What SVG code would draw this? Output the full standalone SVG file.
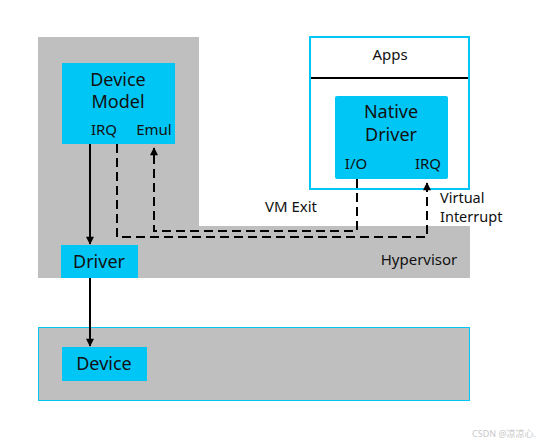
<svg xmlns="http://www.w3.org/2000/svg" width="543" height="446" viewBox="0 0 543 446">
<defs>
<style>
.gray{fill:#bfbfbf}
.box{fill:#00c6f6}
.t{font-family:"Noto Sans","Open Sans",sans-serif;fill:#111;text-anchor:middle}
.big{font-size:18px}
.sm{font-size:15px}
.solid{stroke:#000;stroke-width:2;fill:none}
.dash{stroke:#000;stroke-width:2;fill:none;stroke-dasharray:9 5}
</style>
<marker id="ah2" viewBox="0 0 10 10" refX="9" refY="5" markerWidth="12" markerHeight="8" markerUnits="userSpaceOnUse" orient="auto">
<path d="M0,0 L10,5 L0,10 Z" fill="#000"/>
</marker>
</defs>
<rect width="543" height="446" fill="#fff"/>
<g id="hypervisor">
<path class="gray" d="M38,37 H199 V226 H470 V278 H38 Z"/>
<text class="t sm" x="419" y="265">Hypervisor</text>
</g>
<g id="hardware">
<rect x="38.5" y="327.5" width="431" height="73" fill="#bfbfbf" stroke="#00c6f6" stroke-width="1"/>
</g>
<g id="apps">
<rect x="310" y="37" width="159" height="152" fill="#fff" stroke="#00c6f6" stroke-width="2"/>
<line x1="311" y1="78" x2="468" y2="78" stroke="#000" stroke-width="2"/>
<text class="t sm" x="390" y="60">Apps</text>
</g>
<g id="device-model">
<rect class="box" x="62" y="63" width="113" height="81"/>
<text class="t big" x="118" y="86">Device</text>
<text class="t big" x="118" y="108">Model</text>
<text class="t sm" x="104" y="135">IRQ</text>
<text class="t sm" x="154" y="135">Emul</text>
</g>
<g id="native-driver">
<rect class="box" x="335" y="96" width="113" height="83" rx="2"/>
<text class="t big" x="391" y="118">Native</text>
<text class="t big" x="391" y="141">Driver</text>
<text class="t sm" x="356" y="169">I/O</text>
<text class="t sm" x="428" y="169">IRQ</text>
</g>
<g id="driver">
<rect class="box" x="61" y="245" width="77" height="33"/>
<text class="t big" x="99" y="268">Driver</text>
</g>
<g id="device">
<rect class="box" x="62" y="347" width="85" height="34"/>
<text class="t big" x="104" y="370">Device</text>
</g>
<g id="connectors">
<line class="solid" x1="90" y1="144" x2="90" y2="244" marker-end="url(#ah2)"/>
<line class="solid" x1="90" y1="278" x2="90" y2="346" marker-end="url(#ah2)"/>
<path class="dash" d="M117,144 V237 H427 V190"/>
<path d="M427,190 V183" stroke="#000" stroke-width="2" marker-end="url(#ah2)"/>
<path class="dash" d="M357,179 V231 H154 V158"/>
<path d="M154,158 V148" stroke="#000" stroke-width="2" marker-end="url(#ah2)"/>
</g>
<g id="labels">
<text class="t sm" x="291" y="212">VM Exit</text>
<text class="t" x="440" y="203" style="text-anchor:start;font-size:14.5px">Virtual</text>
<text class="t" x="440" y="222" style="text-anchor:start;font-size:14.5px">Interrupt</text>
<text x="536" y="437" style="font-family:'Noto Sans','Noto Sans CJK SC',sans-serif;font-size:9px;fill:#c8c8c8;text-anchor:end">CSDN @凉凉心.</text>
</g>
</svg>
